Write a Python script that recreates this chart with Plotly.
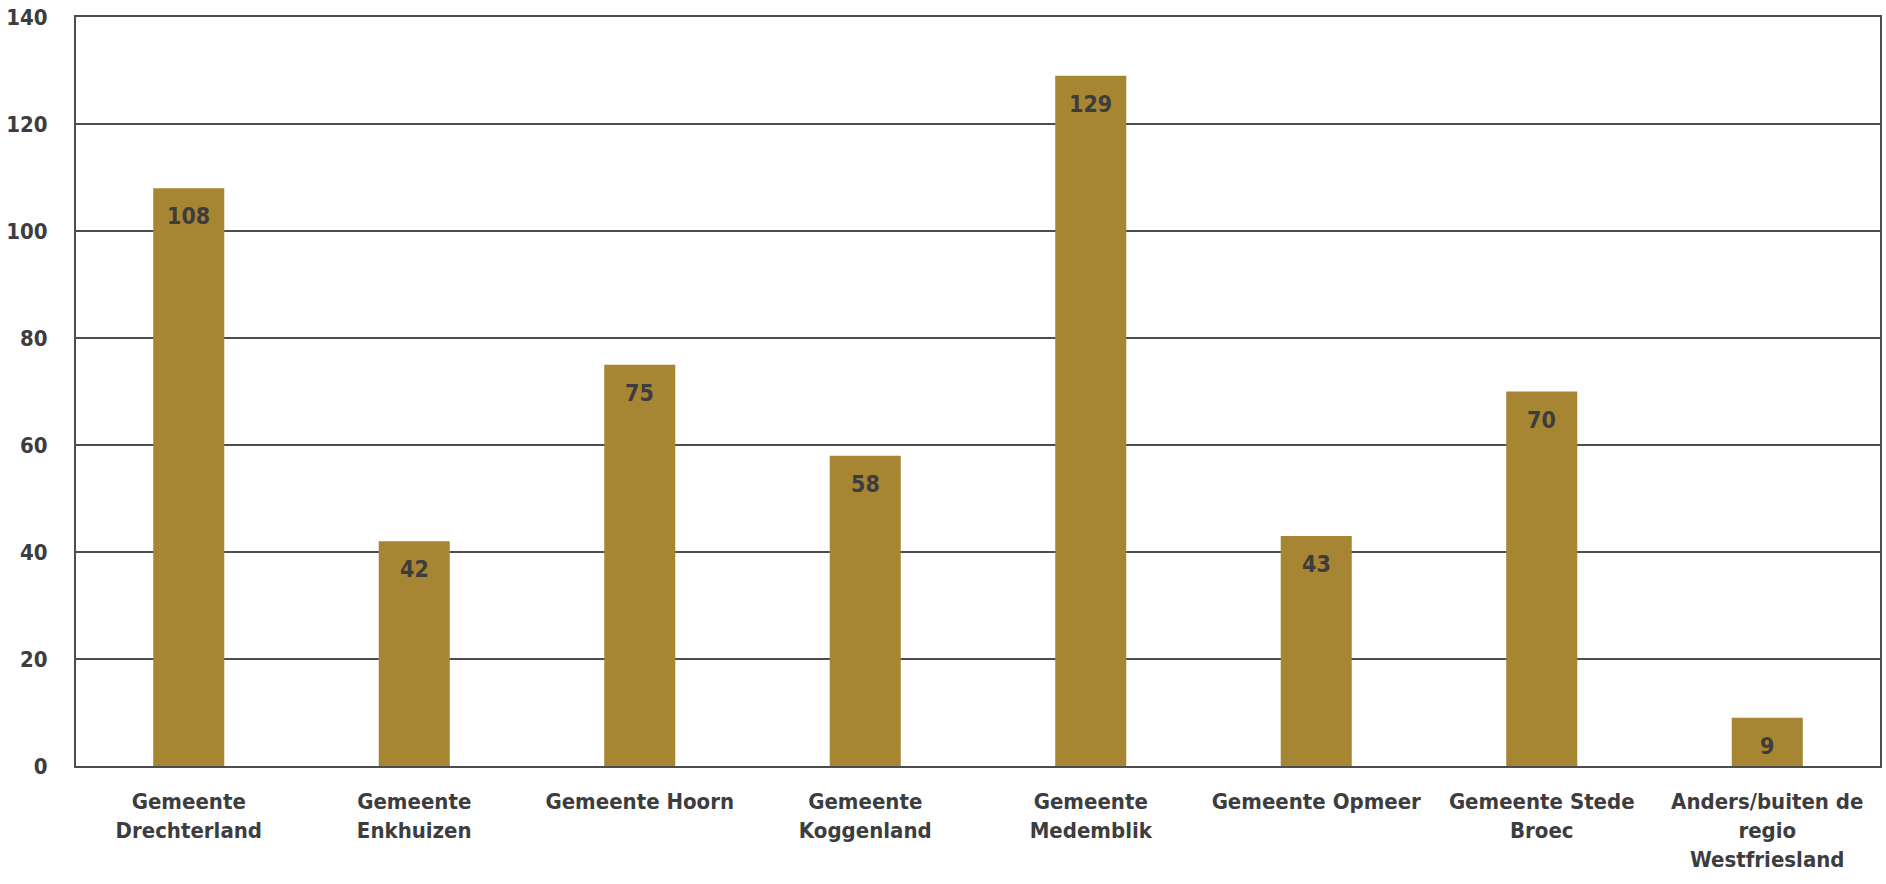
import plotly.graph_objects as go

categories = [
    "Gemeente<br>Drechterland",
    "Gemeente<br>Enkhuizen",
    "Gemeente Hoorn",
    "Gemeente<br>Koggenland",
    "Gemeente<br>Medemblik",
    "Gemeente Opmeer",
    "Gemeente Stede<br>Broec",
    "Anders/buiten de<br>regio<br>Westfriesland",
]
values = [108, 42, 75, 58, 129, 43, 70, 9]
y_ticks = [0, 20, 40, 60, 80, 100, 120, 140]

FONT = "DejaVu Sans Condensed, sans-serif"
TEXT = "#3d3d40"
BAR = "#a68632"
LINE = "#4d4d4d"

fig = go.Figure()
fig.add_trace(go.Bar(
    x=categories, y=values,
    marker=dict(color=BAR, line=dict(width=0)),
    hoverinfo="skip",
))

for c, v in zip(categories, values):
    fig.add_annotation(
        x=c, y=v, text=f"<b>{v}</b>", showarrow=False,
        yanchor="top", yshift=-13,
        font=dict(family=FONT, size=23, color=TEXT),
    )

fig.update_layout(
    width=1886, height=884,
    margin=dict(l=76, r=4, t=17, b=118),
    plot_bgcolor="white", paper_bgcolor="white",
    bargap=0.685,
    showlegend=False,
    font=dict(family=FONT, size=22, color=TEXT),
)
fig.update_xaxes(
    showline=True, linecolor=LINE, linewidth=2, mirror=True,
    showgrid=False, ticks="", ticklabelstandoff=15,
    tickfont=dict(family=FONT, size=22, color=TEXT, weight="bold"),
)
fig.update_yaxes(
    range=[0, 140], tickvals=y_ticks,
    showline=True, linecolor=LINE, linewidth=2, mirror=True,
    showgrid=True, gridcolor=LINE, gridwidth=1.5,
    zeroline=False, ticks="", ticklabelstandoff=22,
    tickfont=dict(family=FONT, size=22, color=TEXT, weight="bold"),
)

fig.write_html("out.html")
